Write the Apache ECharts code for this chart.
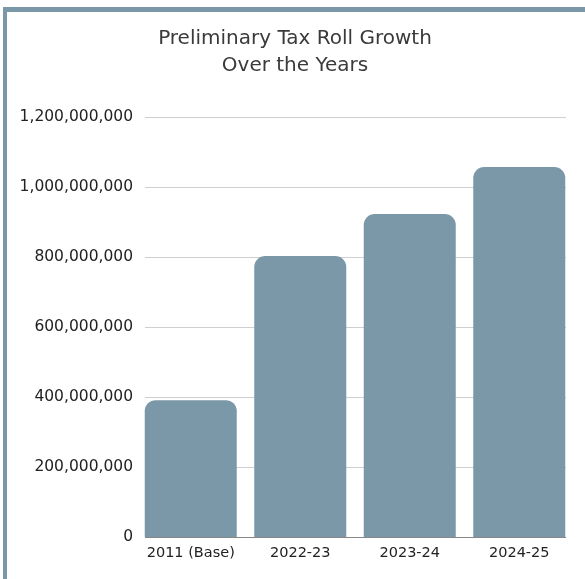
<!DOCTYPE html>
<html>
<head>
  <meta charset="utf-8">
  <title>Preliminary Tax Roll Growth</title>
  <script src="https://fastly.jsdelivr.net/npm/echarts@6/dist/echarts.min.js"></script>
  <style>
    html, body { margin: 0; padding: 0; background: #fff; }
    #frame {
      position: absolute; left: 3px; top: 7px; width: 582px; height: 572px;
      border-left: 4px solid #7b98a8; border-top: 5px solid #7b98a8;
      box-sizing: border-box;
    }
    #main { position: absolute; left: 0; top: 0; width: 585px; height: 579px; }
  </style>
</head>
<body>
<div id="frame"></div>
<div id="main"></div>
<script type="text/javascript">
  // data
  const years = ['2011 (Base)', '2022-23', '2023-24', '2024-25'];
  const taxRoll = [391000000, 803000000, 923000000, 1057000000];

  var myChart = echarts.init(document.getElementById('main'));
  var option = {
    title: {
      text: 'Preliminary Tax Roll Growth\nOver the Years',
      left: 290,
      textAlign: 'center',
      top: 20,
      textStyle: {
        fontFamily: 'DejaVu Sans',
        fontWeight: 'normal',
        fontSize: 20,
        lineHeight: 27,
        color: '#3a3a3a'
      }
    },
    // grid 0 carries the value axis + gridlines, grid 1 the bars (wider so bars sit flush)
    grid: [
      { left: 145, right: 19, top: 117, bottom: 42 },
      { left: 136, right: 11, top: 117, bottom: 42 }
    ],
    xAxis: [
      { type: 'category', gridIndex: 0, data: years, show: false },
      {
        type: 'category',
        gridIndex: 1,
        data: years,
        axisTick: { show: false },
        axisLine: { show: false },
        axisLabel: { color: '#222', fontFamily: 'DejaVu Sans', fontSize: 14.5, margin: 9, interval: 0 }
      }
    ],
    yAxis: [
      {
        type: 'value',
        gridIndex: 0,
        min: 0,
        max: 1200000000,
        interval: 200000000,
        axisLabel: {
          color: '#222',
          fontFamily: 'DejaVu Sans',
          fontSize: 15.5,
          margin: 12,
          formatter: v => v.toLocaleString('en-US')
        },
        splitLine: { lineStyle: { color: '#cfcfcf', width: 1 } }
      },
      {
        type: 'value',
        gridIndex: 1,
        min: 0,
        max: 1200000000,
        interval: 200000000,
        show: false,
        splitLine: { show: false }
      }
    ],
    series: [
      {
        type: 'line',
        xAxisIndex: 0,
        yAxisIndex: 0,
        data: [],
        silent: true,
        markLine: {
          symbol: 'none',
          silent: true,
          label: { show: false },
          lineStyle: { color: '#888', width: 1, type: 'solid' },
          data: [{ yAxis: 0 }]
        }
      },
      {
        type: 'bar',
        xAxisIndex: 1,
        yAxisIndex: 1,
        data: taxRoll,
        barWidth: 92,
        z: 3,
        itemStyle: { color: '#7b98a8', borderRadius: [11, 11, 0, 0] }
      }
    ]
  };
  myChart.setOption(option);
</script>
</body>
</html>
